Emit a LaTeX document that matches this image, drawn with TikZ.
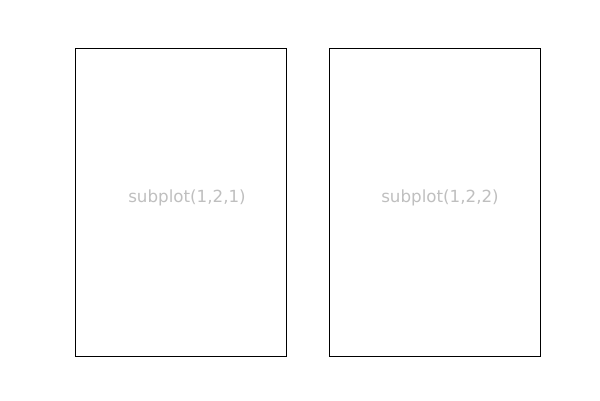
\documentclass[tikz,border=0pt]{standalone}
\usepackage{fontspec}
\setmainfont{DejaVu Sans}
\definecolor{lbl}{gray}{0.75}
\begin{document}
\begin{tikzpicture}[x=1pt,y=-1pt,
  axbox/.style={draw=black,line width=0.8pt},
  lab/.style={text=lbl,font=\fontsize{16.7}{20}\selectfont,inner sep=0pt}]
\useasboundingbox (0,0) rectangle (600,400);
\node[axbox,minimum width=211pt,minimum height=308pt,inner sep=0pt] (a1) at (180.5,202) {};
\node[axbox,minimum width=211pt,minimum height=308pt,inner sep=0pt] (a2) at (434.5,202) {};
\node[lab] (t1) at (187,198) {subplot(1,2,1)};
\node[lab] (t2) at (440,198) {subplot(1,2,2)};
\end{tikzpicture}
\end{document}
